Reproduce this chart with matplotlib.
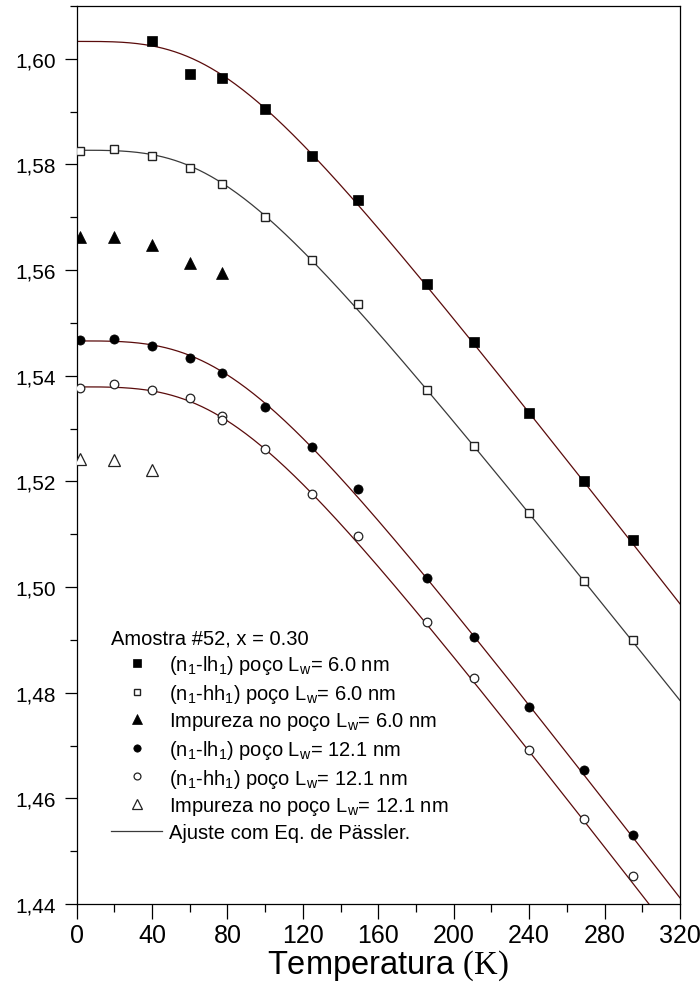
import numpy as np
import matplotlib
matplotlib.use("Agg")
import matplotlib.pyplot as plt
from matplotlib.ticker import MultipleLocator, FuncFormatter

plt.rcParams['font.family'] = ['Liberation Sans', 'DejaVu Sans']
plt.rcParams['mathtext.fontset'] = 'custom'
plt.rcParams['mathtext.rm'] = 'Liberation Serif'

# ---- data (temperature in K, energy in eV) ----
T_lh60 = [40, 60, 77, 100, 125, 149, 186, 211, 240, 269, 295]
E_lh60 = [1.6033, 1.5972, 1.5963, 1.5905, 1.5817, 1.5733, 1.5573, 1.5464, 1.5329, 1.5201, 1.5090]

T_hh60 = [2, 20, 40, 60, 77, 100, 125, 149, 186, 211, 240, 269, 295]
E_hh60 = [1.5825, 1.5829, 1.5817, 1.5793, 1.5763, 1.5701, 1.5620, 1.5535, 1.5373, 1.5268, 1.5140, 1.5012, 1.4900]

T_imp60 = [2, 20, 40, 60, 77]
E_imp60 = [1.5662, 1.5662, 1.5648, 1.5613, 1.5594]

T_lh121 = [2, 20, 40, 60, 77, 100, 125, 149, 186, 211, 240, 269, 295]
E_lh121 = [1.5468, 1.5469, 1.5457, 1.5433, 1.5405, 1.5341, 1.5265, 1.5185, 1.5017, 1.4905, 1.4773, 1.4653, 1.4531]

T_hh121 = [2, 20, 40, 60, 77, 77, 100, 125, 149, 186, 211, 240, 269, 295]
E_hh121 = [1.5377, 1.5385, 1.5373, 1.5357, 1.5323, 1.5317, 1.5262, 1.5177, 1.5097, 1.4933, 1.4828, 1.4692, 1.4560, 1.4453]

T_imp121 = [2, 20, 40]
E_imp121 = [1.5242, 1.5240, 1.5222]

# Pässler fit parameters: E0 (eV), alpha (eV/K), Theta (K), p
fit_E0 = [1.6033, 1.5827, 1.5466, 1.5379]
fit_alpha = [4.6e-4, 4.5e-4, 4.65e-4, 4.65e-4]
fit_theta = [180, 180, 190, 190]
fit_p = [3.3, 3.3, 3.3, 3.3]
fit_colors = ['#5a0b0b', '#3a3a3a', '#5a0b0b', '#5a0b0b']

x_ticks = [0, 40, 80, 120, 160, 200, 240, 280, 320]
y_ticks = [1.44, 1.46, 1.48, 1.50, 1.52, 1.54, 1.56, 1.58, 1.60]

legend_title = 'Amostra #52, x = 0.30'
labels = [
    r'(n$\mathregular{_1}$-lh$\mathregular{_1}$) poço L$\mathregular{_w}$= 6.0 nm',
    r'(n$\mathregular{_1}$-hh$\mathregular{_1}$) poço L$\mathregular{_w}$= 6.0 nm',
    r'Impureza no poço L$\mathregular{_w}$= 6.0 nm',
    r'(n$\mathregular{_1}$-lh$\mathregular{_1}$) poço L$\mathregular{_w}$= 12.1 nm',
    r'(n$\mathregular{_1}$-hh$\mathregular{_1}$) poço L$\mathregular{_w}$= 12.1 nm',
    r'Impureza no poço L$\mathregular{_w}$= 12.1 nm',
    'Ajuste com Eq. de Pässler.',
]


def passler(T, E0, a, th, p):
    T = np.asarray(T, dtype=float)
    return E0 - (a * th / 2.0) * ((1.0 + (2.0 * T / th) ** p) ** (1.0 / p) - 1.0)


fig = plt.figure(figsize=(7.0, 10.03), dpi=100)
ax = fig.add_axes([0.1093, 0.0977, 0.8621, 0.8953])

Tfit = np.linspace(0, 320, 400)
for E0, a, th, p, c in zip(fit_E0, fit_alpha, fit_theta, fit_p, fit_colors):
    ax.plot(Tfit, passler(Tfit, E0, a, th, p), color=c, lw=0.9, zorder=2)

h1, = ax.plot(T_lh60, E_lh60, 's', ms=6.6, color='black', mec='black', mew=0.5, ls='none', zorder=3)
h2, = ax.plot(T_hh60, E_hh60, 's', ms=6.0, mfc='white', mec='#222222', mew=1.0, ls='none', zorder=3)
h3, = ax.plot(T_imp60, E_imp60, '^', ms=8.2, color='black', mec='black', mew=0.5, ls='none', zorder=3)
h4, = ax.plot(T_lh121, E_lh121, 'o', ms=6.6, color='black', mec='black', mew=0.5, ls='none', zorder=3)
h5, = ax.plot(T_hh121, E_hh121, 'o', ms=6.2, mfc='white', mec='#222222', mew=0.9, ls='none', zorder=3)
h6, = ax.plot(T_imp121, E_imp121, '^', ms=8.4, mfc='white', mec='#222222', mew=0.9, ls='none', zorder=3)
h7, = ax.plot([], [], color='#3a3a3a', lw=0.9)

ax.set_xlim(0, 320)
ax.set_ylim(1.44, 1.61)
ax.set_xticks(x_ticks)
ax.set_yticks(y_ticks)
ax.xaxis.set_minor_locator(MultipleLocator(20))
ax.yaxis.set_minor_locator(MultipleLocator(0.01))
ax.yaxis.set_major_formatter(FuncFormatter(lambda v, pos: f'{v:.2f}'.replace('.', ',')))
ax.tick_params(axis='y', which='major', direction='out', length=8.6, width=0.9, labelsize=15, pad=6)
ax.tick_params(axis='y', which='minor', direction='out', length=5, width=0.9)
ax.tick_params(axis='x', which='major', direction='out', length=10.5, width=0.9, labelsize=18, pad=3.5)
ax.tick_params(axis='x', which='minor', direction='out', length=5.8, width=0.9)
for s in ax.spines.values():
    s.set_linewidth(0.9)

ax.set_xlabel(r'Temperatura $\mathrm{(K)}$', fontsize=23.5)
ax.xaxis.label.set_va('baseline')
ax.xaxis.set_label_coords(0.516, -0.0768)

leg = ax.legend([h1, h2, h3, h4, h5, h6, h7], labels, title=legend_title,
                loc='upper left', bbox_to_anchor=(0.057, 0.307), frameon=False,
                fontsize=14.5, title_fontsize=14.5, borderpad=0, borderaxespad=0,
                handlelength=2.55, handletextpad=0.35, labelspacing=0.28,
                markerscale=0.8, alignment='left')

fig.savefig('out.png', dpi=100)
